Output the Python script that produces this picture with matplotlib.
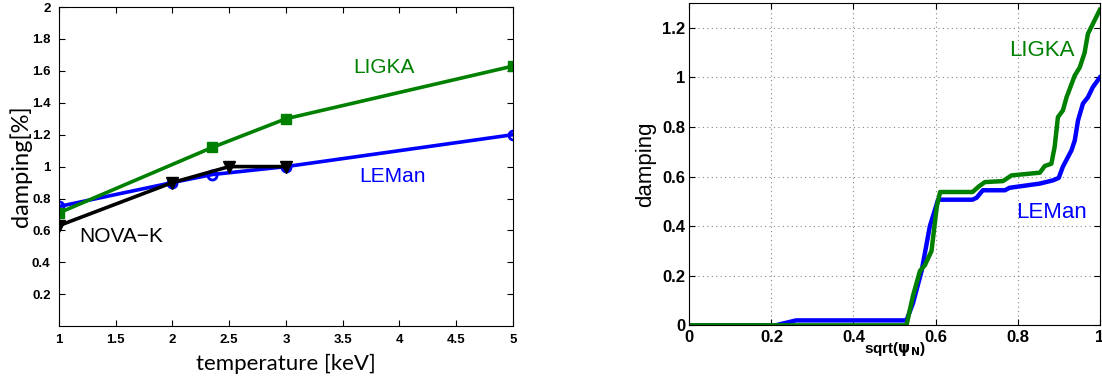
import numpy as np
import matplotlib.pyplot as plt

# left panel: damping vs temperature
temp_ligka = [1, 2.35, 3, 5]
damp_ligka = [0.71, 1.12, 1.30, 1.63]
temp_leman = [1, 2, 2.35, 3, 5]
damp_leman = [0.75, 0.90, 0.95, 1.0, 1.2]
temp_nova = [1, 2, 2.5, 3]
damp_nova = [0.63, 0.90, 1.0, 1.0]

# right panel: damping profile vs sqrt(psi_N)
r_leman = [0, 0.21, 0.24, 0.26, 0.529, 0.545, 0.566, 0.586, 0.606, 0.69, 0.70, 0.715,
           0.769, 0.78, 0.854, 0.886, 0.90, 0.91, 0.931, 0.939, 0.947, 0.959, 0.971, 0.983, 1.0]
d_leman = [0, 0, 0.012, 0.02, 0.02, 0.09, 0.22, 0.40, 0.507, 0.507, 0.515, 0.545,
           0.545, 0.555, 0.572, 0.585, 0.595, 0.64, 0.706, 0.746, 0.827, 0.895, 0.92, 0.961, 1.0]
r_ligka = [0, 0.529, 0.545, 0.562, 0.574, 0.59, 0.603, 0.611, 0.69, 0.705, 0.72, 0.764,
           0.785, 0.854, 0.866, 0.882, 0.89, 0.898, 0.91, 0.919, 0.939, 0.951, 0.963, 0.971, 0.983, 1.0]
d_ligka = [0, 0, 0.12, 0.22, 0.243, 0.30, 0.48, 0.538, 0.538, 0.56, 0.578, 0.582,
           0.605, 0.616, 0.643, 0.652, 0.72, 0.84, 0.867, 0.92, 1.008, 1.04, 1.10, 1.176, 1.216, 1.273]

green = '#008000'
blue = '#0000ff'
tickfont = {'family': 'Liberation Sans', 'weight': 'bold'}

fig = plt.figure(figsize=(11.02, 3.92), dpi=100)

ax1 = fig.add_axes([0.0535, 0.168, 0.412, 0.814])
ax1.plot(temp_leman, damp_leman, color=blue, lw=2.6, marker='o', ms=6.5, mfc='none', mew=2)
ax1.plot(temp_ligka, damp_ligka, color=green, lw=2.6, marker='s', ms=6.5)
ax1.plot(temp_nova, damp_nova, color='black', lw=2.6, marker='v', ms=8.5)
ax1.set_xlim(1, 5)
ax1.set_ylim(0, 2)
xt = [1, 1.5, 2, 2.5, 3, 3.5, 4, 4.5, 5]
ax1.set_xticks(xt)
ax1.set_xticklabels(['1', '1.5', '2', '2.5', '3', '3.5', '4', '4.5', '5'], fontdict=tickfont, fontsize=9.5)
yt = [0.2, 0.4, 0.6, 0.8, 1, 1.2, 1.4, 1.6, 1.8, 2]
ax1.set_yticks(yt)
ax1.set_yticklabels(['0.2', '0.4', '0.6', '0.8', '1', '1.2', '1.4', '1.6', '1.8', '2'], fontdict=tickfont, fontsize=9.5)
ax1.tick_params(direction='in', top=True, right=True, length=4, pad=6)
ax1.set_xlabel('temperature [keV]', family='Lato', fontsize=16, labelpad=5)
ax1.set_ylabel('damping[%]', family='Lato', fontsize=17, labelpad=0)
ax1.text(3.86, 1.62, 'LIGKA', color=green, fontsize=15, family='Liberation Sans', ha='center', va='center')
ax1.text(3.94, 0.937, 'LEMan', color=blue, fontsize=15, family='Liberation Sans', ha='center', va='center')
ax1.text(1.55, 0.56, 'NOVA\u2212K', color='black', fontsize=15, family='Liberation Sans', ha='center', va='center')

ax2 = fig.add_axes([0.6255, 0.170, 0.3725, 0.822])
ax2.plot(r_leman, d_leman, color=blue, lw=3.2)
ax2.plot(r_ligka, d_ligka, color=green, lw=3.2)
ax2.set_xlim(0, 1)
ax2.set_ylim(0, 1.3)
ax2.set_xticks([0, 0.2, 0.4, 0.6, 0.8, 1])
ax2.set_xticklabels(['0', '0.2', '0.4', '0.6', '0.8', '1'], fontdict=tickfont, fontsize=12)
ax2.set_yticks([0, 0.2, 0.4, 0.6, 0.8, 1, 1.2])
ax2.set_yticklabels(['0', '0.2', '0.4', '0.6', '0.8', '1', '1.2'], fontdict=tickfont, fontsize=12)
ax2.tick_params(direction='in', top=True, right=True, length=4, pad=3)
ax2.grid(True, color='#888888', linestyle=(0, (1, 3)), linewidth=0.8)
ax2.set_xlabel(r'sqrt($\mathbf{\psi_N}$)', family='Liberation Sans', weight='bold', fontsize=11, labelpad=-3)
ax2.set_ylabel('damping', family='Liberation Sans', fontsize=16, labelpad=4)
ax2.text(0.859, 1.109, 'LIGKA', color=green, fontsize=16, family='Liberation Sans', ha='center', va='center')
ax2.text(0.883, 0.457, 'LEMan', color=blue, fontsize=16, family='Liberation Sans', ha='center', va='center')

fig.savefig('out.png', dpi=100)
